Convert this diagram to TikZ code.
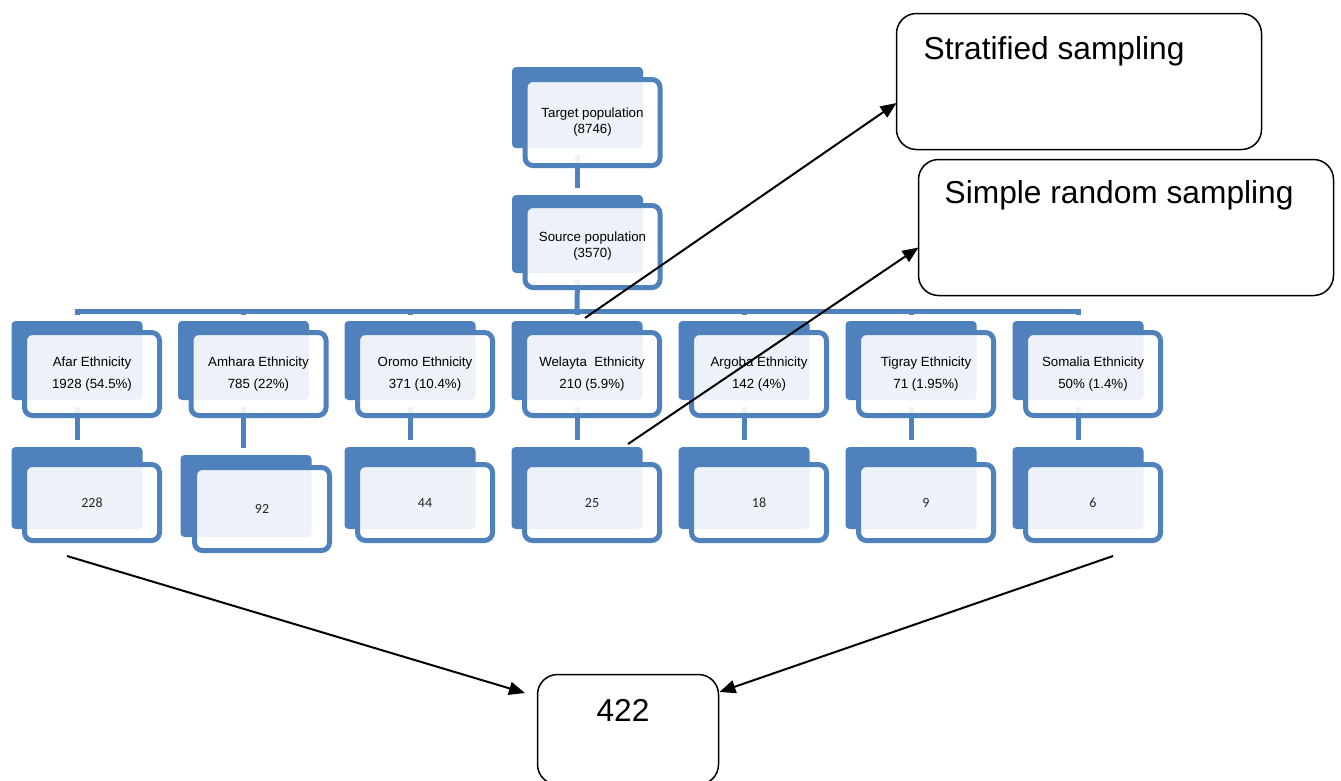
\documentclass[tikz,border=0pt]{standalone}
\usepackage{fontspec}
\setmainfont{Liberation Sans}
\newfontfamily\calfont{Carlito}
\usetikzlibrary{arrows.meta,calc}
\definecolor{sablue}{HTML}{4F81BD}
\begin{document}
\begin{tikzpicture}[x=1pt,y=-1pt,
  backbox/.style={fill=sablue, rounded corners=4pt, minimum width=131pt, inner sep=0pt, outer sep=0pt},
  frontbox/.style={draw=sablue, line width=5pt, fill=white, fill opacity=0.9, text opacity=1,
    rounded corners=8pt, minimum width=135pt, inner sep=0pt, outer sep=0pt, align=center},
  toptext/.style={font=\fontsize{13.3}{16}\selectfont},
  ethtext/.style={font=\fontsize{13.3}{22}\selectfont},
  numtext/.style={font=\calfont\fontsize{14}{16}\selectfont, text=black!85},
  conn/.style={draw=sablue, line width=5pt, shorten <=7pt, shorten >=7pt},
  outbox/.style={draw=black, line width=1.5pt, rounded corners=20pt, inner sep=0pt, outer sep=0pt},
  bigtext/.style={font=\fontsize{31.7}{38}\selectfont, inner sep=0pt},
  arr/.style={draw=black, line width=2pt, -{Triangle[length=16pt,width=13pt]}}
]
\useasboundingbox (0,0) rectangle (1341,780);

% ---------- back boxes ----------
\node[backbox, minimum height=81pt] (tgtb) at (577.5,107.5) {};
\node[backbox, minimum height=78pt] (srcb) at (577.5,234) {};

\node[backbox, minimum height=79pt] (afarb) at (77,360.5) {};
\node[backbox, minimum height=79pt] (amhb) at (243.5,360.5) {};
\node[backbox, minimum height=79pt] (orob) at (410,360.5) {};
\node[backbox, minimum height=79pt] (welb) at (577,360.5) {};
\node[backbox, minimum height=79pt] (argb) at (744,360.5) {};
\node[backbox, minimum height=79pt] (tigb) at (911,360.5) {};
\node[backbox, minimum height=79pt] (somb) at (1078,360.5) {};

\node[backbox, minimum height=82pt] (afar2b) at (77,488) {};
\node[backbox, minimum height=82pt] (amh2b) at (246,496) {};
\node[backbox, minimum height=82pt] (oro2b) at (410,488) {};
\node[backbox, minimum height=82pt] (wel2b) at (577,488) {};
\node[backbox, minimum height=82pt] (arg2b) at (744,488) {};
\node[backbox, minimum height=82pt] (tig2b) at (911,488) {};
\node[backbox, minimum height=82pt] (som2b) at (1078,488) {};

% ---------- connectors ----------
\coordinate (bar) at (577,311);
\draw[conn] (tgtb.south) -- (srcb.north);
\draw[conn, shorten >=0pt] (srcb.south) -- (bar);
\draw[sablue, line width=5pt, line cap=rect] (afarb.north |- bar) -- (somb.north |- bar);
\foreach \n in {afarb,amhb,orob,welb,argb,tigb,somb}{
  \draw[conn, shorten <=0pt, shorten >=6pt] (\n.north |- bar) -- (\n.north);
}
\draw[conn] (afarb.south) -- (afar2b.north);
\draw[conn] (amhb.south) -- (amhb.south |- amh2b.north);
\draw[conn] (orob.south) -- (oro2b.north);
\draw[conn] (welb.south) -- (wel2b.north);
\draw[conn] (argb.south) -- (arg2b.north);
\draw[conn] (tigb.south) -- (tig2b.north);
\draw[conn] (somb.south) -- (som2b.north);

% ---------- front boxes ----------
\node[frontbox, toptext, minimum height=86pt] (tgt) at (592.5,122.5) {Target population\\(8746)};
\node[frontbox, toptext, minimum height=82pt] (src) at (592.5,246.5) {Source population\\(3570)};

\node[frontbox, ethtext, minimum height=83pt] (afar) at (92,374) {Afar Ethnicity\\1928 (54.5\%)};
\node[frontbox, ethtext, minimum height=83pt] (amh) at (258.5,374) {Amhara Ethnicity\\785 (22\%)};
\node[frontbox, ethtext, minimum height=83pt] (oro) at (425,374) {Oromo Ethnicity\\371 (10.4\%)};
\node[frontbox, ethtext, minimum height=83pt] (wel) at (592,374) {Welayta\ \ Ethnicity\\210 (5.9\%)};
\node[frontbox, ethtext, minimum height=83pt] (arg) at (759,374) {Argoba Ethnicity\\142 (4\%)};
\node[frontbox, ethtext, minimum height=83pt] (tig) at (926,374) {Tigray Ethnicity\\71 (1.95\%)};
\node[frontbox, ethtext, minimum height=83pt] (som) at (1093,374) {Somalia Ethnicity\\50\% (1.4\%)};

\node[frontbox, numtext, minimum height=76pt] (afar2) at (92,502.5) {228};
\node[frontbox, numtext, minimum height=83pt] (amh2) at (262,509) {92};
\node[frontbox, numtext, minimum height=76pt] (oro2) at (425,502.5) {44};
\node[frontbox, numtext, minimum height=76pt] (wel2) at (592,502.5) {25};
\node[frontbox, numtext, minimum height=76pt] (arg2) at (759,502.5) {18};
\node[frontbox, numtext, minimum height=76pt] (tig2) at (926,502.5) {9};
\node[frontbox, numtext, minimum height=76pt] (som2) at (1093,502.5) {6};

% ---------- outline boxes ----------
\node[outbox, minimum width=365pt, minimum height=136pt] (strat) at (1079,81.5) {};
\node[bigtext, anchor=base west] (strattxt) at ([xshift=27pt,yshift=-46pt]strat.north west) {Stratified sampling};
\node[outbox, minimum width=415pt, minimum height=136pt] (simple) at (1126,227.5) {};
\node[bigtext, anchor=base west] (simpletxt) at ([xshift=26pt,yshift=-44pt]simple.north west) {Simple random sampling};
\node[outbox, minimum width=181pt, minimum height=110pt] (total) at (628,729.5) {};
\node[bigtext, anchor=base] (totaltxt) at ([xshift=-5pt,yshift=-47pt]total.north) {422};

% ---------- arrows ----------
\coordinate (a1s) at (585,318);
\coordinate (a2s) at (628,444);
\coordinate (a3s) at (67,556);
\coordinate (a4s) at (1113,556);
\draw[arr] (a1s) -- ([yshift=-21.5pt]strat.west);
\draw[arr] (a2s) -- ([yshift=-20pt]simple.west);
\draw[arr] (a3s) -- ([xshift=-12.5pt,yshift=36.5pt]total.west);
\draw[arr] (a4s) -- ([xshift=1pt,yshift=37.5pt]total.east);
\end{tikzpicture}
\end{document}
